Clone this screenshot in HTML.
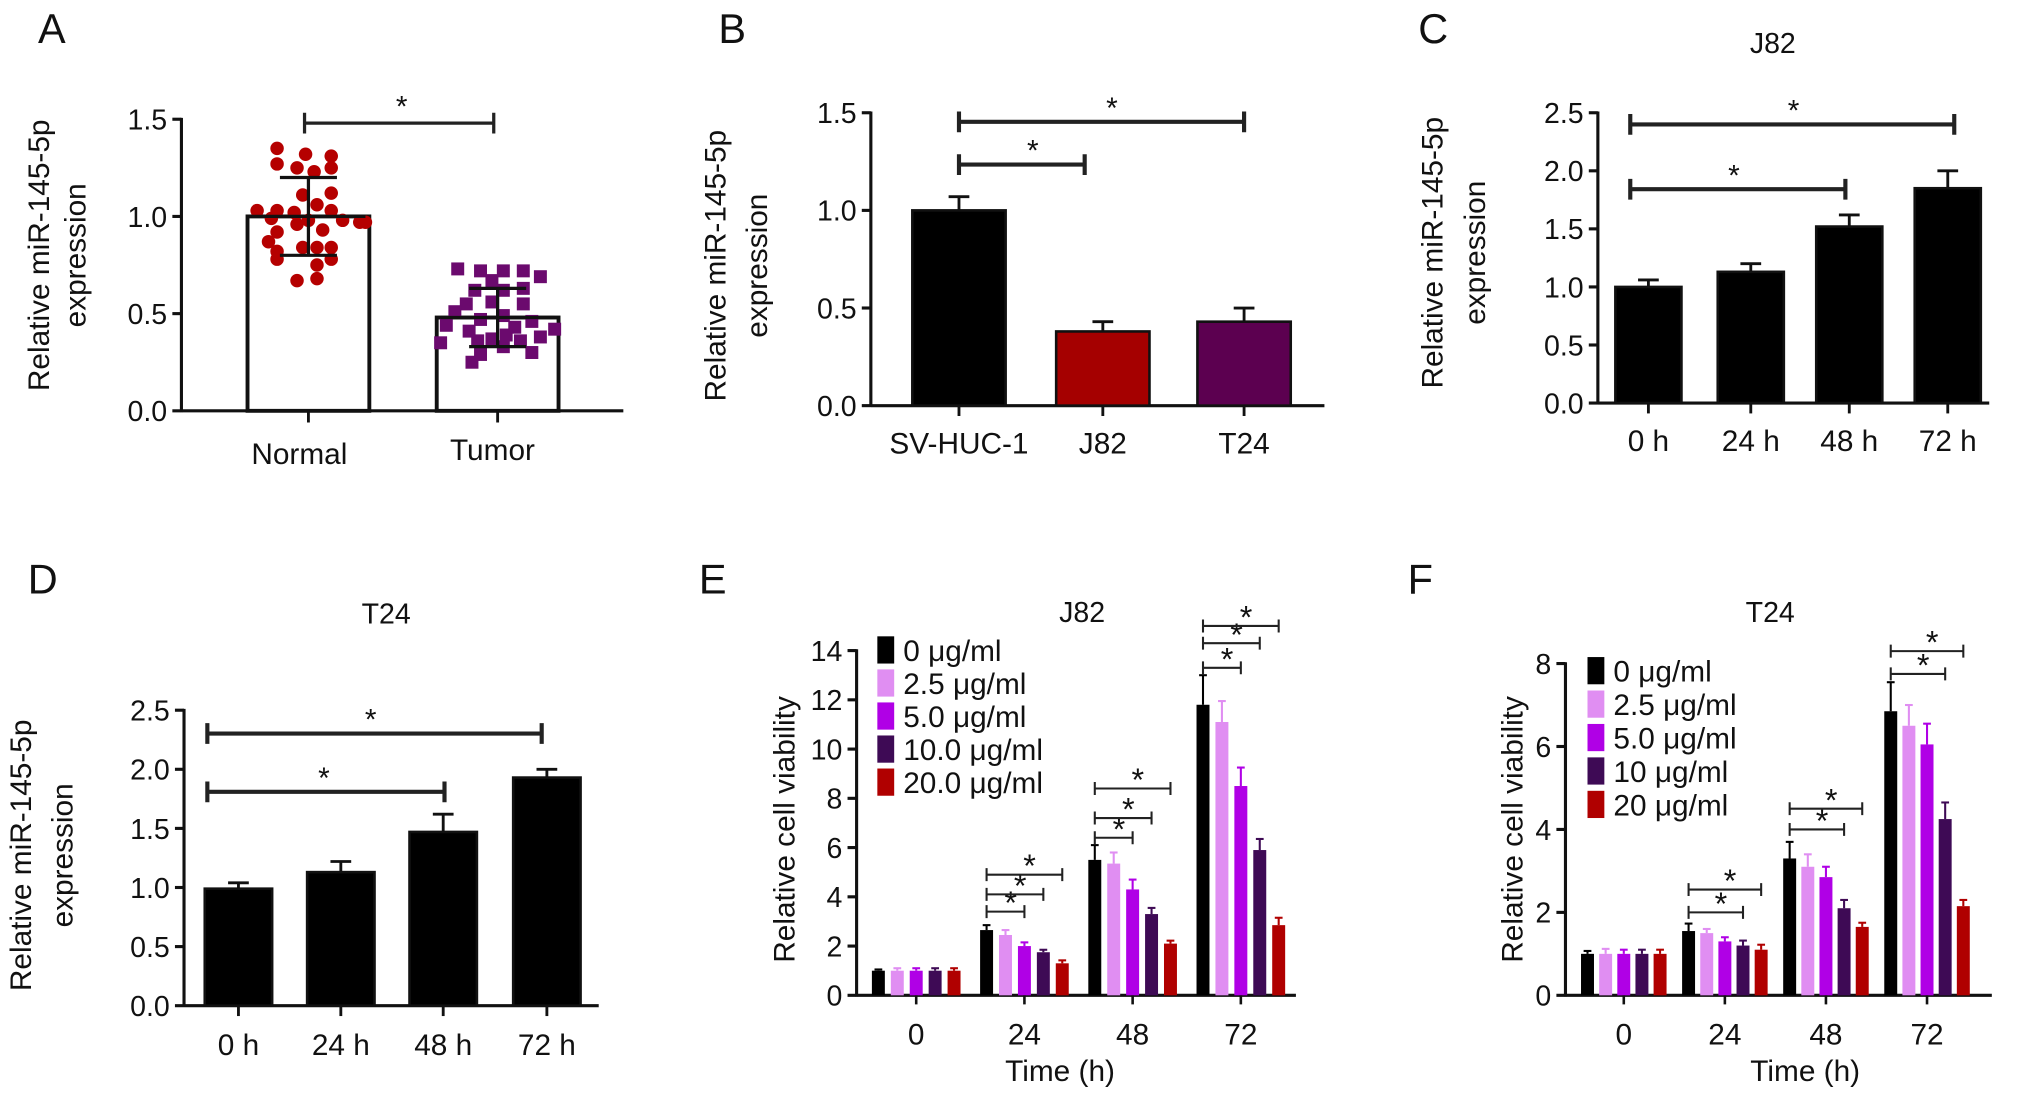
<!DOCTYPE html>
<html><head><meta charset="utf-8">
<style>
html,body{margin:0;padding:0;background:#fff;}
svg{display:block;font-family:"Liberation Sans",Arial,sans-serif;}
</style></head>
<body>
<svg id="fig" width="2032" height="1099" viewBox="0 0 1568 848" preserveAspectRatio="none" xmlns="http://www.w3.org/2000/svg"></svg>
<script>
// ---------- DATA ----------
const aCategories = ["Normal","Tumor"];
const aMeans = [1.0, 0.48];
const aSD = [0.2, 0.15];
const aNormalVals = [1.35,1.32,1.31,1.27,1.25,1.25,1.23,1.12,1.11,1.06,1.03,1.03,1.03,1.02,0.99,0.98,0.98,0.97,0.97,0.96,0.93,0.92,0.87,0.84,0.84,0.84,0.82,0.78,0.78,0.75,0.67,0.68];
const aNormalJit = [-0.55,-0.05,0.4,-0.55,-0.2,0.4,0.1,0.4,-0.1,0.15,-0.9,-0.55,0.4,-0.25,-0.65,0.0,0.6,0.9,1.0,-0.2,0.25,-0.55,-0.7,-0.1,0.15,0.4,-0.55,-0.55,0.4,0.15,-0.2,0.15];
const aTumorVals = [0.73,0.72,0.72,0.72,0.69,0.67,0.63,0.62,0.62,0.56,0.55,0.55,0.51,0.49,0.47,0.46,0.44,0.43,0.42,0.41,0.39,0.38,0.37,0.36,0.36,0.35,0.33,0.30,0.29,0.25];
const aTumorJit = [-0.7,-0.3,0.1,0.45,0.75,-0.1,0.45,-0.4,0.1,-0.1,-0.55,0.45,-0.75,0.1,-0.3,0.6,-0.9,0.3,1.0,-0.5,0.15,0.75,-0.1,-0.35,0.4,-1.0,0.1,0.6,-0.3,-0.45];
const aTicks = ["0.0","0.5","1.0","1.5"];

const bCategories = ["SV-HUC-1","J82","T24"];
const bValues = [1.0, 0.38, 0.43];
const bErrors = [0.07, 0.05, 0.07];
const bTicks = ["0.0","0.5","1.0","1.5"];

const cCategories = ["0 h","24 h","48 h","72 h"];
const cValues = [1.0, 1.13, 1.52, 1.85];
const cErrors = [0.06, 0.07, 0.1, 0.15];
const cTicks = ["0.0","0.5","1.0","1.5","2.0","2.5"];

const dCategories = ["0 h","24 h","48 h","72 h"];
const dValues = [0.99, 1.13, 1.47, 1.93];
const dErrors = [0.05, 0.09, 0.15, 0.07];
const dTicks = ["0.0","0.5","1.0","1.5","2.0","2.5"];

const doseLabelsE = ["0 \u03bcg/ml","2.5 \u03bcg/ml","5.0 \u03bcg/ml","10.0 \u03bcg/ml","20.0 \u03bcg/ml"];
const doseLabelsF = ["0 \u03bcg/ml","2.5 \u03bcg/ml","5.0 \u03bcg/ml","10 \u03bcg/ml","20 \u03bcg/ml"];
const timeCategories = ["0","24","48","72"];
const eValues = [[1,1,1,1,1],[2.65,2.45,2.0,1.75,1.3],[5.5,5.35,4.3,3.3,2.1],[11.8,11.1,8.5,5.9,2.85]];
const eErrors = [[0.05,0.1,0.1,0.1,0.1],[0.2,0.2,0.15,0.1,0.12],[0.6,0.45,0.4,0.25,0.12],[1.2,0.85,0.75,0.45,0.3]];
const eTicks = ["0","2","4","6","8","10","12","14"];
const fValues = [[1,1,1,1,1],[1.55,1.5,1.3,1.2,1.1],[3.3,3.1,2.85,2.1,1.65],[6.85,6.5,6.05,4.25,2.15]];
const fErrors = [[0.07,0.12,0.1,0.1,0.1],[0.18,0.1,0.1,0.12,0.12],[0.4,0.3,0.25,0.2,0.1],[0.7,0.5,0.5,0.4,0.15]];
const fTicks = ["0","2","4","6","8"];
// significance brackets: [group, lastBarIndex, value level]
const eSig = [[1,2,3.4],[1,3,4.1],[1,4,4.9],[2,2,6.4],[2,3,7.2],[2,4,8.4],[3,2,13.3],[3,3,14.3],[3,4,15.0]];
const fSig = [[1,3,2.0],[1,4,2.55],[2,3,4.0],[2,4,4.5],[3,3,7.75],[3,4,8.3]];
const doseColors = ["#000000","#e08ef2","#b000e6","#3e0a55","#b00000"];

// ---------- HELPERS ----------
const NS = "http://www.w3.org/2000/svg";
const svg = document.getElementById("fig");
function mk(tag, attrs, parent){
  const e = document.createElementNS(NS, tag);
  for (const k in attrs) e.setAttribute(k, attrs[k]);
  (parent||svg).appendChild(e);
  return e;
}
function txt(s, x, y, size, anchor, parent, extra){
  const t = mk("text", Object.assign({x:x, y:y, "font-size":size, "text-anchor":anchor||"middle", fill:"#111"}, extra||{}), parent);
  t.textContent = s;
  return t;
}
function yAxis(g, ax, ticks){
  const y = v => ax.y0 - (v/ax.vmax)*(ax.y0-ax.y1);
  const l = mk("line",{x1:ax.x,x2:ax.x,y1:ax.y0+1,y2:y(ax.vmax)-1,stroke:"#111","stroke-width":2.4},g);
  
  
  ticks.forEach(t=>{
    const v = parseFloat(t);
    mk("line",{x1:ax.x-7,x2:ax.x,y1:y(v),y2:y(v),stroke:"#111","stroke-width":2.4},g);
    const tl = txt(t, ax.x-11, y(v)+8, 22, "end", g);
    
    
  });
  return y;
}
function xAxisLine(g, x0, x1, y0){
  const l = mk("line",{x1:x0,x2:x1,y1:y0,y2:y0,stroke:"#111","stroke-width":2.4},g);
  
  
}
function yTitle(g, lines, cx, cy, size){
  lines.forEach((s,i)=>{
    const x = cx[i];
    const t = txt(s, x, cy, size, "middle", g, {transform:`rotate(-90 ${x} ${cy})`});
    
    
  });
}
function star(g, x, y, size){
  const t = txt("*", x, y, size||23, "middle", g);
  
  
}
function bracket(g, x0, x1, y, h, w){
  const p = mk("path",{d:`M${x0},${y-h}V${y+h}M${x0},${y}H${x1}M${x1},${y-h}V${y+h}`,stroke:"#222","stroke-width":w||2.5,fill:"none"},g);
  
  
}
function panelLetter(s,x,y){
  const t = txt(s,x,y,32,"middle");
  
  
}

// ---------- PANEL A ----------
(function(){
  const g = mk("g",{});
  
  
  panelLetter("A",40,33);
  const y = yAxis(g,{x:140,y0:317,y1:92,vmax:1.5},aTicks);
  xAxisLine(g,140,481,317);
  const centers=[238,384], bw=94;
  aCategories.forEach((c,i)=>{
    const r = mk("rect",{x:centers[i]-bw/2,y:y(aMeans[i]),width:bw,height:317-y(aMeans[i]),fill:"#fff",stroke:"#111","stroke-width":3},g);
    
    
    mk("line",{x1:centers[i],x2:centers[i],y1:317,y2:326,stroke:"#111","stroke-width":2.2},g);
    const tl = txt(c, centers[i]-(i===0?7:4), 358-(i?3:0), 23, "middle", g);
    
    
  });
  aNormalVals.forEach((v,i)=>{
    const d = mk("circle",{cx:centers[0]+aNormalJit[i]*44,cy:y(v),r:5.2,fill:"#b50000"},g);
    
    
  });
  aTumorVals.forEach((v,i)=>{
    const d = mk("rect",{x:centers[1]+aTumorJit[i]*44-5,y:y(v)-5,width:10,height:10,fill:"#6b0a6e"},g);
    
    
  });
  aCategories.forEach((c,i)=>{
    const m=aMeans[i], s=aSD[i], x=centers[i];
    const e = mk("path",{d:`M${x},${y(m+s)}V${y(m-s)}M${x-22},${y(m+s)}H${x+22}M${x-22},${y(m-s)}H${x+22}M${x-44},${y(m)}H${x+44}`,stroke:"#111","stroke-width":2.5,fill:"none"},g);
    
    
  });
  bracket(g,235,381,95,8,2.5);
  star(g,310,90);
  yTitle(g,["Relative miR-145-5p","expression"],[38,66],197,23);
})();

// ---------- simple bar panel ----------
function simpleBars(opts){
  const g = mk("g",{});
  
  
  panelLetter(opts.letter,opts.lx,opts.ly);
  const y = yAxis(g,opts.ax,opts.ticks);
  xAxisLine(g,opts.ax.x,opts.xend,opts.ax.y0);
  opts.cats.forEach((c,i)=>{
    const cx = opts.centers[i];
    const v = opts.vals[i], e = opts.errs[i];
    mk("line",{x1:cx,x2:cx,y1:y(v),y2:y(v+e),stroke:"#111","stroke-width":2.2},g);
    mk("line",{x1:cx-8,x2:cx+8,y1:y(v+e),y2:y(v+e),stroke:"#111","stroke-width":2.2},g);
    const r = mk("rect",{x:cx-opts.bw/2,y:y(v),width:opts.bw,height:opts.ax.y0-y(v),fill:opts.colors[i],stroke:"#111","stroke-width":2},g);
    
    
    mk("line",{x1:cx,x2:cx,y1:opts.ax.y0,y2:opts.ax.y0+8,stroke:"#111","stroke-width":2.2},g);
    const tl = txt(c,cx,opts.labelY,23,"middle",g);
    
    
  });
  opts.brackets.forEach(b=>{bracket(g,b[0],b[1],b[2],8,3.2);star(g,b[3],b[2]-3);});
  if(opts.title){
    const t = txt(opts.title[0],opts.title[1],opts.title[2],22,"middle",g);
    
    
  }
  yTitle(g,["Relative miR-145-5p","expression"],opts.ytx,opts.yty,23);
}
simpleBars({name:'panel-b-chart',letter:"B",lx:565,ly:33,ax:{x:672,y0:313,y1:87,vmax:1.5},ticks:bTicks,xend:1022,
  cats:bCategories,vals:bValues,errs:bErrors,centers:[740,851,960],bw:72,colors:["#000","#a50000","#5c0050"],labelY:350,
  brackets:[[740,837,127,797],[740,960,94,858]],ytx:[560,592],yty:205});
simpleBars({name:'panel-c-chart',letter:"C",lx:1106,ly:33,ax:{x:1233,y0:311,y1:87,vmax:2.5},ticks:cTicks,xend:1535,
  cats:cCategories,vals:cValues,errs:cErrors,centers:[1272,1351,1427,1503],bw:51,colors:["#000","#000","#000","#000"],labelY:348,
  brackets:[[1258,1424,146,1338],[1258,1508,96,1384]],title:["J82",1368,41],ytx:[1113,1146],yty:195});
simpleBars({name:'panel-d-chart',letter:"D",lx:33,ly:458,ax:{x:142,y0:776,y1:548,vmax:2.5},ticks:dTicks,xend:462,
  cats:dCategories,vals:dValues,errs:dErrors,centers:[184,263,342,422],bw:52,colors:["#000","#000","#000","#000"],labelY:814,
  brackets:[[160,343,611,250],[160,418,566,286]],title:["T24",298,481],ytx:[24,56],yty:660});

// ---------- grouped panels ----------
function grouped(opts){
  const g = mk("g",{});
  
  
  panelLetter(opts.letter,opts.lx,opts.ly);
  const y = yAxis(g,opts.ax,opts.ticks);
  xAxisLine(g,opts.ax.x,opts.xend,opts.ax.y0);
  const gx = i => opts.g0 + i*opts.gstep;
  const bx = (i,j) => gx(i) + (j-2)*opts.bstep;
  timeCategories.forEach((c,i)=>{
    opts.vals[i].forEach((v,j)=>{
      const x = bx(i,j), e = opts.errs[i][j];
      mk("line",{x1:x,x2:x,y1:y(v),y2:y(v+e),stroke:doseColors[j],"stroke-width":1.6},g);
      mk("line",{x1:x-3,x2:x+3,y1:y(v+e),y2:y(v+e),stroke:doseColors[j],"stroke-width":1.6},g);
      const r = mk("rect",{x:x-opts.bw/2,y:y(v),width:opts.bw,height:opts.ax.y0-y(v),fill:doseColors[j]},g);
      
      
    });
    mk("line",{x1:gx(i),x2:gx(i),y1:opts.ax.y0,y2:opts.ax.y0+7,stroke:"#111","stroke-width":2},g);
    const tl = txt(c,gx(i),opts.ax.y0+38,23,"middle",g);
    
    
  });
  opts.sig.forEach(s=>{
    const x0 = bx(s[0],0), x1 = bx(s[0],s[1]), yy = y(s[2]);
    bracket(g,x0,x1,yy,5,1.6);
    star(g,(x0+x1)/2+4,yy+2,25);
  });
  opts.labels.forEach((s,j)=>{
    const sq = mk("rect",{x:opts.legX,y:opts.legY+j*opts.legStep-9,width:13,height:21,fill:doseColors[j]},g);
    
    
    const t = txt(s,opts.legX+20,opts.legY+j*opts.legStep+10,23,"start",g);
    
    
  });
  const t = txt(opts.title[0],opts.title[1],opts.title[2],22,"middle",g);
  
  
  const xt = txt("Time (h)",opts.xtx,834,23,"middle",g);
  
  
  yTitle(g,["Relative cell viability"],[opts.ytx],640,23);
}
grouped({name:'panel-e-chart',letter:"E",lx:550,ly:458,ax:{x:661,y0:768,y1:502,vmax:14},ticks:eTicks,xend:1000,
  g0:707,gstep:83.5,bstep:14.6,bw:10,vals:eValues,errs:eErrors,sig:eSig,labels:doseLabelsE,legX:677,legY:500,legStep:25.5,
  title:["J82",835,480],xtx:818,ytx:613});
grouped({name:'panel-f-chart',letter:"F",lx:1096,ly:458,ax:{x:1208,y0:768,y1:512,vmax:8},ticks:fTicks,xend:1537,
  g0:1253,gstep:78,bstep:14,bw:10,vals:fValues,errs:fErrors,sig:fSig,labels:doseLabelsF,legX:1225,legY:516,legStep:25.8,
  title:["T24",1366,480],xtx:1393,ytx:1175});
</script>
</body></html>
